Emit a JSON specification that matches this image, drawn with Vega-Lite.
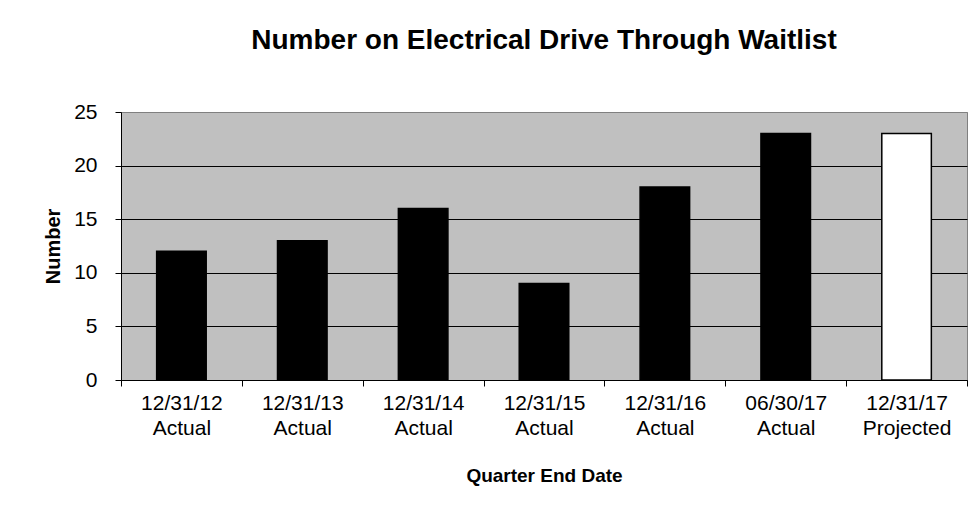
{
  "$schema": "https://vega.github.io/schema/vega-lite/v6.json",
  "width": 846,
  "height": 268,
  "autosize": {"type": "none"},
  "padding": {"left": 121, "top": 112, "right": 13, "bottom": 142},
  "background": "white",
  "config": {
    "font": "Liberation Sans",
    "view": {"fill": "#C0C0C0", "stroke": "#808080", "strokeWidth": 1}
  },
  "title": {
    "text": "Number on Electrical Drive Through Waitlist",
    "font": "Liberation Sans",
    "fontSize": 28,
    "fontWeight": "bold",
    "color": "black",
    "anchor": "middle",
    "baseline": "alphabetic",
    "offset": 24
  },
  "data": {
    "values": [
      {"period": "12/31/12 Actual", "status": "Actual", "number": 12},
      {"period": "12/31/13 Actual", "status": "Actual", "number": 13},
      {"period": "12/31/14 Actual", "status": "Actual", "number": 16},
      {"period": "12/31/15 Actual", "status": "Actual", "number": 9},
      {"period": "12/31/16 Actual", "status": "Actual", "number": 18},
      {"period": "06/30/17 Actual", "status": "Actual", "number": 23},
      {"period": "12/31/17 Projected", "status": "Projected", "number": 23}
    ]
  },
  "mark": {"type": "bar", "stroke": "black", "strokeWidth": 1.5, "width": {"band": 0.41}},
  "encoding": {
    "x": {
      "field": "period",
      "type": "nominal",
      "sort": null,
      "scale": {"paddingInner": 0, "paddingOuter": 0},
      "axis": {
        "title": "Quarter End Date",
        "titleFont": "Liberation Sans",
        "titleFontSize": 19,
        "titleFontWeight": "bold",
        "titleColor": "black",
        "titlePadding": 28,
        "labelExpr": "isValid(datum.value) ? split(datum.value, ' ') : ''",
        "labelFont": "Liberation Sans",
        "labelFontSize": 21,
        "labelColor": "black",
        "labelLineHeight": 25,
        "labelAngle": 0,
        "labelPadding": 6,
        "tickBand": "extent",
        "tickSize": 6,
        "tickColor": "black",
        "domainColor": "black",
        "grid": false
      }
    },
    "y": {
      "field": "number",
      "type": "quantitative",
      "scale": {"domain": [0, 25], "nice": false},
      "axis": {
        "title": "Number",
        "titleFont": "Liberation Sans",
        "titleFontSize": 20,
        "titleFontWeight": "bold",
        "titleColor": "black",
        "titlePadding": 10,
        "values": [0, 5, 10, 15, 20, 25],
        "labelFont": "Liberation Sans",
        "labelFontSize": 21,
        "labelColor": "black",
        "labelPadding": 18,
        "tickSize": 6,
        "tickColor": "black",
        "domainColor": "black",
        "grid": true,
        "gridColor": {"condition": {"test": "datum.value == 25", "value": "#808080"}, "value": "black"},
        "gridOpacity": 1,
        "gridWidth": 1
      }
    },
    "fill": {
      "field": "status",
      "type": "nominal",
      "scale": {"domain": ["Actual", "Projected"], "range": ["black", "white"]},
      "legend": null
    }
  }
}
